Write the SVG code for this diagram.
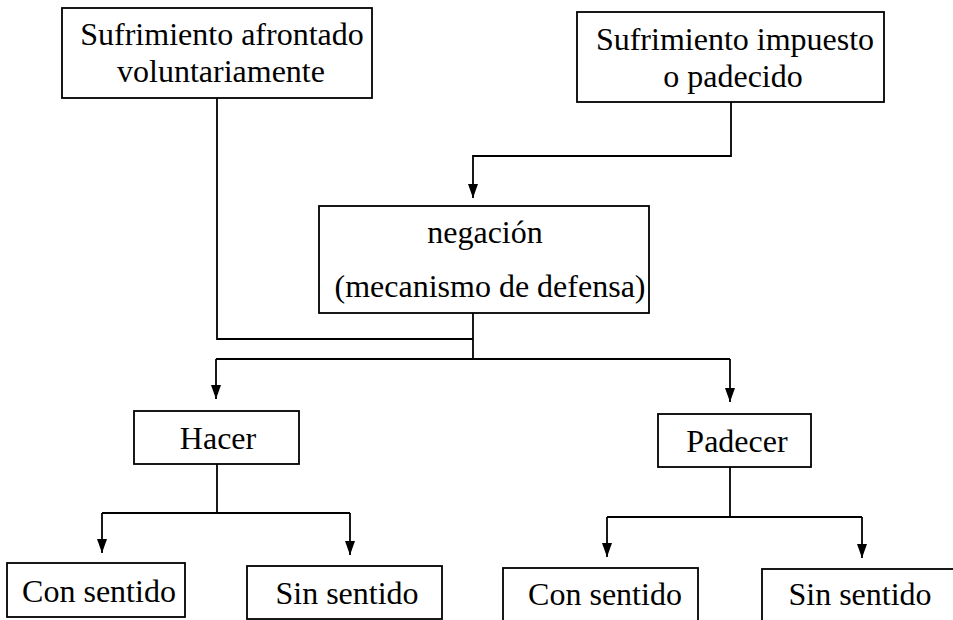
<svg xmlns="http://www.w3.org/2000/svg" width="953" height="620" viewBox="0 0 953 620">
<style>
.box{fill:#fff;stroke:#000;stroke-width:1.8}
.t{font-family:"Liberation Serif","Times New Roman",serif;font-size:32px;fill:#000;text-anchor:middle}
.c{fill:none;stroke:#000;stroke-width:1.8}
</style>
<defs>
<marker id="ah" viewBox="0 0 14 10" refX="14" refY="5" markerWidth="14" markerHeight="10" markerUnits="userSpaceOnUse" orient="auto">
<path d="M0,0 L14,5 L0,10 z" fill="#000"/>
</marker>
</defs>
<rect width="953" height="620" fill="#fff"/>
<g id="connectors">
<path class="c" d="M731 102 V156 H473 V198" marker-end="url(#ah)"/>
<path class="c" d="M217 98 V339 H473"/>
<path class="c" d="M473 313 V359"/>
<path class="c" d="M216 359 H730"/>
<path class="c" d="M216 359 V399" marker-end="url(#ah)"/>
<path class="c" d="M730 359 V402" marker-end="url(#ah)"/>
<path class="c" d="M217 464 V513"/>
<path class="c" d="M102 513 H350"/>
<path class="c" d="M102 513 V553" marker-end="url(#ah)"/>
<path class="c" d="M350 513 V555" marker-end="url(#ah)"/>
<path class="c" d="M730 467 V517"/>
<path class="c" d="M607 517 H862"/>
<path class="c" d="M607 517 V557" marker-end="url(#ah)"/>
<path class="c" d="M862 517 V558" marker-end="url(#ah)"/>
</g>
<g id="n1">
<rect class="box" x="62" y="8" width="310" height="90"/>
<text class="t" x="222" y="45">Sufrimiento afrontado</text>
<text class="t" x="221" y="82">voluntariamente</text>
</g>
<g id="n2">
<rect class="box" x="577" y="12" width="307" height="90"/>
<text class="t" x="735" y="50">Sufrimiento impuesto</text>
<text class="t" x="733" y="87">o padecido</text>
</g>
<g id="n3">
<rect class="box" x="319" y="206" width="330" height="107"/>
<text class="t" x="485" y="243">negación</text>
<text class="t" x="490" y="297">(mecanismo de defensa)</text>
</g>
<g id="n4">
<rect class="box" x="134" y="411" width="165" height="53"/>
<text class="t" x="218" y="449">Hacer</text>
</g>
<g id="n5">
<rect class="box" x="658" y="414" width="153" height="53"/>
<text class="t" x="737" y="452">Padecer</text>
</g>
<g id="n6">
<rect class="box" x="7" y="563" width="178" height="54"/>
<text class="t" x="99" y="602">Con sentido</text>
</g>
<g id="n7">
<rect class="box" x="247" y="566" width="195" height="53"/>
<text class="t" x="347" y="604">Sin sentido</text>
</g>
<g id="n8">
<rect class="box" x="503" y="568" width="195" height="60"/>
<text class="t" x="605" y="605">Con sentido</text>
</g>
<g id="n9">
<rect class="box" x="762" y="569" width="200" height="60"/>
<text class="t" x="860" y="605">Sin sentido</text>
</g>
</svg>
